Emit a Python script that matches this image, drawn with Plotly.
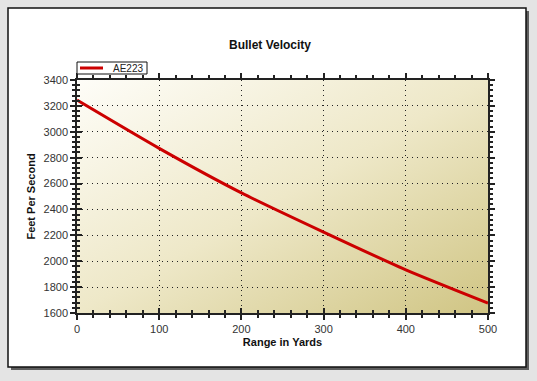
import plotly.graph_objects as go
import base64

# Data
range_yards = [0, 100, 200, 300, 400, 500]
velocity_fps = [3245, 2872, 2528, 2225, 1934, 1677]
series_name = "AE223"

x_range = [0, 500]
y_range = [1600, 3400]
x_ticks = [0, 100, 200, 300, 400, 500]
y_ticks = [1600, 1800, 2000, 2200, 2400, 2600, 2800, 3000, 3200, 3400]

L, R, T, B = 77, 488, 80, 313
W, H = 537, 381
pw, ph = R - L, B - T


def px_x(p):
    return (p - L) / pw


def px_y(p):
    return (B - p) / ph


svg = (
    '<svg xmlns="http://www.w3.org/2000/svg" width="400" height="240" '
    'viewBox="0 0 400 240" preserveAspectRatio="none">'
    '<defs><linearGradient id="g" x1="0" y1="0" x2="1" y2="1">'
    '<stop offset="0" stop-color="#fefdf8"/>'
    '<stop offset="0.5" stop-color="#eee8c8"/>'
    '<stop offset="1" stop-color="#d0c584"/>'
    '</linearGradient></defs>'
    '<rect width="400" height="240" fill="url(#g)"/></svg>'
)
bg_src = "data:image/svg+xml;base64," + base64.b64encode(svg.encode()).decode()

fig = go.Figure()

fig.add_trace(go.Scatter(
    x=range_yards, y=velocity_fps, mode="lines", name=series_name,
    line=dict(color="#cc0000", width=3, shape="spline", smoothing=0.6),
    showlegend=False,
))

# invisible trace on overlay axes for inner ticks
fig.add_trace(go.Scatter(x=[None], y=[None], xaxis="x2", yaxis="y2", showlegend=False))

tickfont = dict(family="Liberation Sans, Arial", size=11, color="#333333")
axfont = dict(family="Liberation Sans, Arial", size=11, color="#111111")
grid_dash = "1px,4px"

fig.update_layout(
    width=W, height=H,
    margin=dict(l=L, r=W - R, t=T, b=H - B),
    paper_bgcolor="#e4e4e4",
    plot_bgcolor="rgba(0,0,0,0)",
    title=dict(text="<b>Bullet Velocity</b>", x=270 / W, xanchor="center",
               y=1 - 45 / H, yanchor="middle",
               font=dict(family="Liberation Sans, Arial", size=12, color="#111111")),
    showlegend=False,
    xaxis=dict(range=x_range, tickvals=x_ticks, showgrid=True,
               gridcolor="#222222", griddash=grid_dash, gridwidth=1,
               ticks="outside", ticklen=5, tickwidth=1.5, tickcolor="#222222",
               minor=dict(dtick=20, ticks="outside", ticklen=3, tickcolor="#222222", showgrid=False),
               showline=True, linecolor="#222222", linewidth=1.5, mirror="ticks",
               zeroline=False, tickfont=tickfont,
               title=dict(text="<b>Range in Yards</b>", standoff=4, font=axfont)),
    yaxis=dict(range=y_range, tickvals=y_ticks, showgrid=True,
               gridcolor="#222222", griddash=grid_dash, gridwidth=1,
               ticks="outside", ticklen=5, tickwidth=1.5, tickcolor="#222222",
               minor=dict(dtick=40, ticks="outside", ticklen=3, tickcolor="#222222", showgrid=False),
               showline=True, linecolor="#222222", linewidth=1.5, mirror="ticks",
               zeroline=False, tickfont=tickfont,
               title=dict(text="<b>Feet Per Second</b>", standoff=6, font=axfont)),
    xaxis2=dict(range=x_range, overlaying="x", tickvals=x_ticks, showgrid=False,
                ticks="inside", ticklen=5, tickwidth=1.5, tickcolor="#222222",
                minor=dict(dtick=20, ticks="inside", ticklen=3, tickcolor="#222222"),
                showticklabels=False, zeroline=False, matches="x"),
    yaxis2=dict(range=y_range, overlaying="y", tickvals=y_ticks, showgrid=False,
                ticks="inside", ticklen=5, tickwidth=1.5, tickcolor="#222222",
                minor=dict(dtick=40, ticks="inside", ticklen=3, tickcolor="#222222"),
                showticklabels=False, zeroline=False, matches="y"),
    images=[dict(source=bg_src, xref="x", yref="y", x=x_range[0], y=y_range[1],
                 sizex=x_range[1] - x_range[0], sizey=y_range[1] - y_range[0],
                 sizing="stretch", layer="below", xanchor="left", yanchor="top")],
    shapes=[
        # shadow
        dict(type="rect", xref="paper", yref="paper", layer="below",
             x0=px_x(11), x1=px_x(529), y0=px_y(11), y1=px_y(370),
             fillcolor="#5e5e5e", line=dict(width=0)),
        # white card
        dict(type="rect", xref="paper", yref="paper", layer="below",
             x0=px_x(8), x1=px_x(526), y0=px_y(8), y1=px_y(367),
             fillcolor="white", line=dict(color="#111111", width=1.5)),
        # legend box
        dict(type="rect", xref="paper", yref="paper", layer="above",
             x0=px_x(77), x1=px_x(147), y0=px_y(62), y1=px_y(74),
             fillcolor="white", line=dict(color="#111111", width=1)),
        # legend line sample
        dict(type="line", xref="paper", yref="paper", layer="above",
             x0=px_x(80), x1=px_x(103), y0=px_y(68), y1=px_y(68),
             line=dict(color="#cc0000", width=3)),
    ],
    annotations=[
        dict(text=series_name, xref="paper", yref="paper", x=px_x(111), y=px_y(68.5),
             xanchor="left", yanchor="middle", showarrow=False,
             font=dict(family="Liberation Sans, Arial", size=10, color="#222222")),
    ],
)

fig.write_html("out.html", config={"displayModeBar": False},
               post_script="document.body.style.margin='0';")
